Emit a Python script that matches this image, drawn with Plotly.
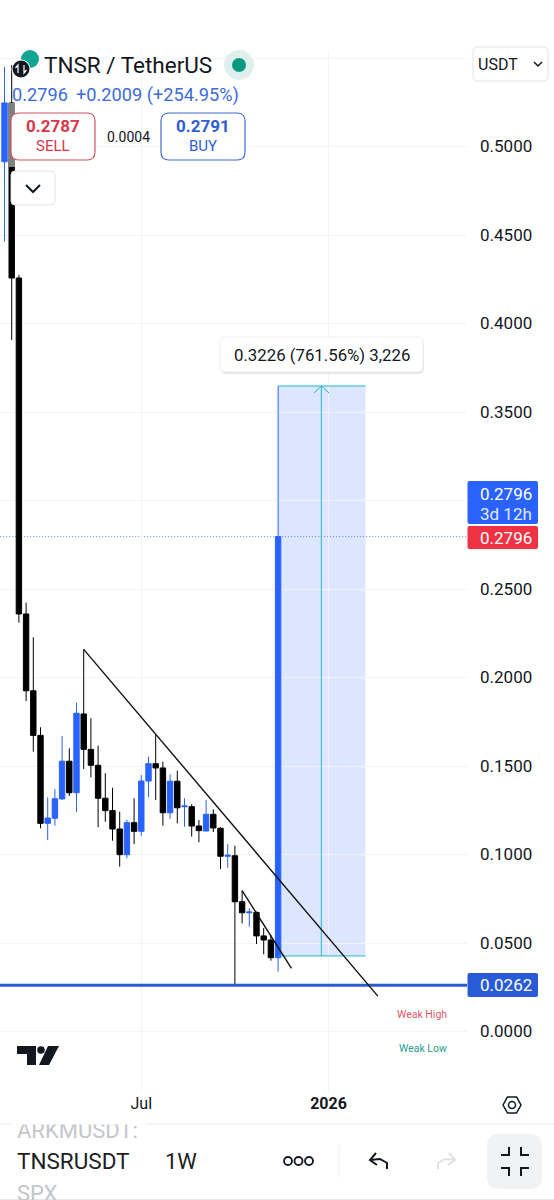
import pandas as pd
import plotly.graph_objects as go

W, H = 554, 1200
L_M, R_M, T_M, B_M = 0, 87, 50, 108
PW, PH = W - L_M - R_M, H - T_M - B_M

open_ = [.4914,.5246,.4257,.2359,.1925,.1673,.1176,.1205,.1314,.1527,.1349,.1794,.1594,.1504,.1318,.1248,.1144,.0999,.1180,.1131,.1415,.1513,.1489,.1236,.1414,.1270,.1270,.1161,.1133,.1227,.1148,.0990,.0993,.0733,.0671,.0673,.0540,.0517,.0417]
high_ = [.5449,.5460,.4274,.2423,.2227,.1719,.1323,.1370,.1670,.1600,.1858,.2159,.1770,.1615,.1459,.1377,.1242,.1195,.1318,.1449,.1553,.1675,.1524,.1453,.1474,.1318,.1284,.1195,.1308,.1255,.1154,.1059,.1050,.0796,.0696,.0677,.0585,.0545,.2796]
low_ = [.4462,.3907,.2310,.1867,.1581,.1148,.1082,.1163,.1308,.1331,.1240,.1483,.1436,.1154,.1185,.1078,.0931,.0979,.1059,.1105,.1323,.1308,.1163,.1201,.1176,.1157,.1101,.1069,.1130,.1127,.0918,.0925,.0263,.0611,.0592,.0494,.0436,.0400,.0338]
close_ = [.5246,.4257,.2359,.1925,.1673,.1176,.1206,.1315,.1527,.1349,.1798,.1594,.1504,.1318,.1248,.1144,.0999,.1180,.1131,.1415,.1513,.1489,.1236,.1414,.1264,.1274,.1161,.1135,.1227,.1150,.0990,.0996,.0733,.0671,.0675,.0540,.0517,.0417,.2796]
weeks = pd.date_range("2025-02-17", periods=len(open_), freq="7D")

price_ticks = [0, .05, .10, .15, .20, .25, .30, .35, .40, .45, .50, .55]
price_labels = ["0.0000","0.0500","0.1000","0.1500","0.2000","0.2500","","0.3500","0.4000","0.4500","0.5000",""]
time_ticks = ["2025-06-30", "2025-12-29"]
time_labels = ["Jul", "<b>2026</b>"]
last_price = 0.2796
support = 0.0262
pos_low, pos_high = 0.0427, 0.3647
pos_start, pos_mid, pos_end = "2025-11-10", "2025-12-22", "2026-02-03"
trend_a = (("2025-05-05", .2159), ("2026-02-15", .0200))
trend_b = (("2025-10-06", .0796), ("2025-11-23", .0356))

BLUE, RED, INK = "#2962ff", "#e5384f", "#131722"
TEAL = "#22b8cf"
FONT = "Roboto"

def px(x): return (x - L_M) / PW
def py(y): return 1 - (y - T_M) / PH

fig = go.Figure(go.Candlestick(
    x=weeks, open=open_, high=high_, low=low_, close=close_,
    increasing=dict(line=dict(color=BLUE, width=1), fillcolor=BLUE),
    decreasing=dict(line=dict(color="#000000", width=1), fillcolor="#000000"),
    whiskerwidth=0, hoverinfo="skip", showlegend=False))

def dline(a, b, color, width=1.5, dash=None, layer="above"):
    fig.add_shape(type="line", x0=a[0], y0=a[1], x1=b[0], y1=b[1], xref="x", yref="y",
                  line=dict(color=color, width=width, dash=dash), layer=layer)

def rect(x0, y0, x1, y1, fill="#ffffff", line=None, lw=1, r=0, opacity=1):
    if r:
        X0, X1 = px(x0), px(x1); Y0, Y1 = py(y0), py(y1)
        rx, ry = r / PW, r / PH
        d = (f"M{X0+rx},{Y0} L{X1-rx},{Y0} Q{X1},{Y0} {X1},{Y0-ry} L{X1},{Y1+ry} Q{X1},{Y1} {X1-rx},{Y1} "
             f"L{X0+rx},{Y1} Q{X0},{Y1} {X0},{Y1+ry} L{X0},{Y0-ry} Q{X0},{Y0} {X0+rx},{Y0} Z")
        fig.add_shape(type="path", path=d, xref="paper", yref="paper", fillcolor=fill,
                      line=dict(color=line or "rgba(0,0,0,0)", width=lw if line else 0), opacity=opacity)
    else:
        fig.add_shape(type="rect", x0=px(x0), x1=px(x1), y0=py(y0), y1=py(y1), xref="paper", yref="paper",
                      fillcolor=fill, line=dict(color=line or "rgba(0,0,0,0)", width=lw if line else 0), opacity=opacity)

def circle(cx, cy, r, fill):
    fig.add_shape(type="circle", x0=px(cx-r), x1=px(cx+r), y0=py(cy-r), y1=py(cy+r),
                  xref="paper", yref="paper", fillcolor=fill, line=dict(width=0))

def poly(points, color, width=2, fill=None, close=False):
    d = "M" + " L".join(f"{px(x)},{py(y)}" for x, y in points) + (" Z" if close else "")
    fig.add_shape(type="path", path=d, xref="paper", yref="paper",
                  fillcolor=fill or "rgba(0,0,0,0)",
                  line=dict(color=color, width=width))

def text(x, y, s, size=16, color=INK, anchor="left", **kw):
    fig.add_annotation(x=px(x), y=py(y), xref="paper", yref="paper", text=s, showarrow=False,
                       xanchor=anchor, yanchor="middle", font=dict(family=FONT, size=size, color=color),
                       borderpad=0, borderwidth=0, **kw)

# position box
fig.add_shape(type="rect", x0=pos_start, x1=pos_end, y0=pos_low, y1=pos_high, xref="x", yref="y",
              fillcolor="rgba(41,98,255,0.16)", line=dict(width=0), layer="below")
dline((pos_start, pos_low), (pos_start, pos_high), BLUE, 1)
dline((pos_start, pos_high), (pos_end, pos_high), TEAL, 1)
dline((pos_start, pos_low), (pos_end, pos_low), TEAL, 1)
dline((pos_mid, pos_low), (pos_mid, pos_high), TEAL, 1)
poly([(314, 393), (321.5, 386), (329, 393)], TEAL, 1)

# levels and trend lines
dline((weeks[0] - pd.Timedelta(days=10), last_price), ("2026-10-01", last_price), "#5b7fd6", 1, "1px,2px", "below")
dline((weeks[0] - pd.Timedelta(days=10), support), ("2026-10-01", support), "#2a5bd7", 3)
dline(trend_a[0], trend_a[1], "#111111", 1.4)
dline(trend_b[0], trend_b[1], "#111111", 1.4)

# translucent legend wash over the candles
rect(9, 103, 15, 167, "#ffffff", opacity=0.5)

# header
circle(30, 59, 9, "#12a594")
circle(21, 69, 9.5, "#ffffff")
circle(21, 69, 8.5, "#131722")
poly([(18, 73), (18, 65), (15.5, 68)], "#ffffff", 1.2)
poly([(24, 65), (24, 73), (26.5, 70)], "#ffffff", 1.2)
text(44, 65, "TNSR / TetherUS", 22.5)
circle(239, 65, 15, "#dff0ec")
circle(239, 65, 7, "#089981")
text(12, 95, "0.2796", 18.2, "#3d6bd9")
text(76, 95, "+0.2009 (+254.95%)", 18.2, "#3d6bd9")
rect(11, 113, 95, 160, "#ffffff", "#d9505f", 1.2, 8)
text(53, 126, "<b>0.2787</b>", 17, "#d7384b", "center")
text(53, 146, "SELL", 15, "#d7384b", "center")
text(128, 137, "0.0004", 14, INK, "center")
rect(161, 113, 245, 160, "#ffffff", "#3f6cd0", 1.2, 8)
text(203, 126, "<b>0.2791</b>", 17, "#2f5ed3", "center")
text(203, 146, "BUY", 15, "#2f5ed3", "center")
rect(11, 171, 55, 205, "#ffffff", "#e3e5ea", 1, 4)
poly([(26, 185), (33, 192), (40, 185)], "#131722", 2)

# currency selector
rect(473, 47, 548, 81, "#ffffff", "#e0e3eb", 1, 5)
text(478, 64, "USDT", 16)
poly([(534, 62), (538, 66), (542, 62)], "#131722", 1.5)

# tooltip
rect(221, 339, 424, 374, "rgba(0,0,0,0.10)", None, 0, 6)
rect(220, 337, 423, 372, "#ffffff", "#eceef2", 1, 6)
text(321.5, 354.5, "0.3226 (761.56%) 3,226", 16.8, INK, "center")

# price labels
rect(467.5, 481, 538, 524, BLUE, None, 0, 2)
rect(467.5, 526, 538, 549, "#ef3345", None, 0, 2)
rect(467.5, 973, 538, 997, "#2a5bd7", None, 0, 2)
text(532, 494, "0.2796", 17, "#ffffff", "right")
text(532, 514, "3d 12h", 17, "#e3e9ff", "right")
text(532, 537.5, "0.2796", 17, "#ffffff", "right")
text(532, 985, "0.0262", 17, "#ffffff", "right")

text(447, 1014, "Weak High", 10.5, "#d9596b", "right")
text(447, 1048, "Weak Low", 10.5, "#2a9d8f", "right")

# TradingView mark
poly([(17, 1046), (36, 1046), (36, 1065), (27, 1065), (27, 1054), (17, 1054)], "#131722", 0, "#131722", True)
circle(41, 1050, 3.8, "#131722")
poly([(48, 1046), (59, 1046), (49, 1065), (39, 1065)], "#131722", 0, "#131722", True)

# settings hexagon
poly([(503, 1105), (507.5, 1097), (516.5, 1097), (521, 1105), (516.5, 1113), (507.5, 1113)], "#131722", 1.5, None, True)
fig.add_shape(type="circle", x0=px(508.5), x1=px(515.5), y0=py(1101.5), y1=py(1108.5), xref="paper", yref="paper",
              line=dict(color="#131722", width=1.5))

# bottom toolbar
fig.add_shape(type="line", x0=px(0), x1=px(W), y0=py(1124), y1=py(1124), xref="paper", yref="paper", line=dict(color="#e6e7ea", width=1))
fig.add_shape(type="line", x0=px(0), x1=px(W), y0=py(1199.5), y1=py(1199.5), xref="paper", yref="paper", line=dict(color="#e6e7ea", width=1))
text(17, 1130, "ARKMUSDT:", 22, "#c4c6cb")
fig.add_annotation(x=px(10), y=py(1119), xref="paper", yref="paper", xanchor="left", yanchor="middle", text="&nbsp;",
                   showarrow=False, width=135, height=10, bgcolor="#ffffff", font=dict(size=6), borderpad=0)
text(17, 1161, "TNSRUSDT", 22.5, "#1b1e24")
text(165, 1161, "1W", 22, "#1b1e24")
text(17, 1193, "SPX", 22, "#c4c6cb")
for cx in (288, 298.5, 309):
    fig.add_shape(type="circle", x0=px(cx-4), x1=px(cx+4), y0=py(1157), y1=py(1165), xref="paper", yref="paper",
                  line=dict(color="#131722", width=1.8))
fig.add_shape(type="line", x0=px(339), x1=px(339), y0=py(1145), y1=py(1177), xref="paper", yref="paper", line=dict(color="#eceef0", width=1))
poly([(376, 1153), (370, 1160), (377, 1165)], "#131722", 2)
poly([(370, 1160), (380, 1159), (387, 1163), (387, 1169)], "#131722", 2)
poly([(449, 1153), (455, 1160), (448, 1165)], "#dfe1e4", 2)
poly([(455, 1160), (445, 1159), (438, 1163), (438, 1169)], "#dfe1e4", 2)
rect(487, 1134, 542, 1189, "#f1f2f3", None, 0, 12)
poly([(501, 1155), (509, 1155), (509, 1147)], "#131722", 2)
poly([(521, 1147), (521, 1155), (529, 1155)], "#131722", 2)
poly([(501, 1168), (509, 1168), (509, 1176)], "#131722", 2)
poly([(529, 1168), (521, 1168), (521, 1176)], "#131722", 2)

day = pd.Timedelta(days=1)
px_per_day = 7.2 / 7
x_left = weeks[0] - day * (4.5 / px_per_day)
x_right = weeks[0] + day * ((467 - 4.5) / px_per_day)
y_bottom = (1031.5 - (H - B_M)) / 1770
y_top = (1031.5 - T_M) / 1770

fig.update_layout(
    width=W, height=H, margin=dict(l=L_M, r=R_M, t=T_M, b=B_M, pad=0),
    paper_bgcolor="#ffffff", plot_bgcolor="#ffffff", showlegend=False, dragmode=False,
    font=dict(family=FONT, color=INK), boxgap=0.25, boxgroupgap=0, boxmode="overlay",
    xaxis=dict(type="date", range=[x_left, x_right], rangeslider=dict(visible=False), showgrid=True,
               gridcolor="#f3f4f6", gridwidth=1, zeroline=False, showline=False, ticks="",
               tickmode="array", tickvals=time_ticks, ticktext=time_labels,
               tickfont=dict(family=FONT, size=16, color=INK)),
    yaxis=dict(side="right", range=[y_bottom, y_top], showgrid=True, gridcolor="#f3f4f6", gridwidth=1,
               zeroline=False, showline=False, ticks="", tickmode="array", tickvals=price_ticks,
               ticktext=price_labels, ticklabelstandoff=12,
               tickfont=dict(family=FONT, size=17, color=INK)),
)
fig.write_html("out.html", config=dict(displayModeBar=False, staticPlot=True),
               post_script="document.body.style.margin='0';document.body.style.background='#fff';")
